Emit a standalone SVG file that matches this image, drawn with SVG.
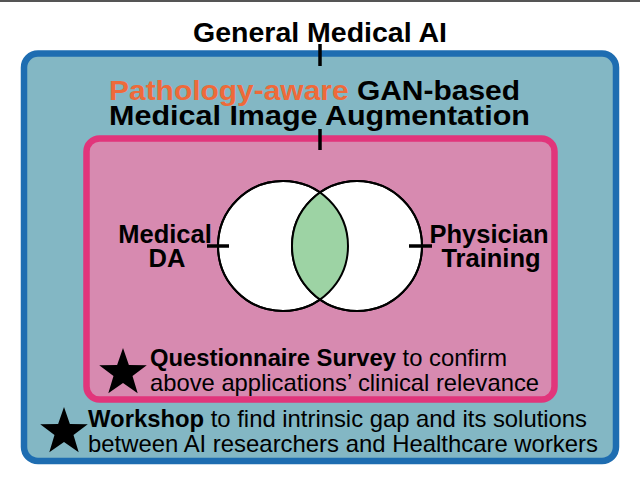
<svg xmlns="http://www.w3.org/2000/svg" width="640" height="485" viewBox="0 0 640 485">
<style>
text{font-family:"Liberation Sans",Arial,Helvetica,sans-serif;fill:#000}
.b{font-weight:bold}
.title{font-size:28.5px;font-weight:bold}
.lbl{font-size:25.5px;font-weight:bold}
.body{font-size:24px}
.tick{stroke:#000;stroke-width:3.5;fill:none}
.star{fill:#000}
</style>
<defs>
<path id="star" d="M0,-25 L5.88,-8.09 L23.78,-7.73 L9.51,3.09 L14.69,20.23 L0,10 L-14.69,20.23 L-9.51,3.09 L-23.78,-7.73 L-5.88,-8.09 Z"/>
<clipPath id="lc"><circle cx="283" cy="246" r="65"/></clipPath>
</defs>
<rect x="0" y="0" width="640" height="485" fill="#fff"/>
<line x1="0" y1="1" x2="640" y2="1" stroke="#555" stroke-width="2"/>

<g id="general-medical-ai">
<text class="title" x="320" y="42" text-anchor="middle" font-size="29.5">General Medical AI</text>
</g>

<g id="gan-augmentation">
<rect x="24" y="53.5" width="592" height="407.5" rx="14" fill="#83b7c4" stroke="#1e6db1" stroke-width="6.5"/>
<text class="title" x="109" y="100" textLength="411" lengthAdjust="spacingAndGlyphs"><tspan fill="#ee6a3a">Pathology-aware</tspan> GAN-based</text>
<text class="title" x="109" y="125" textLength="421" lengthAdjust="spacingAndGlyphs">Medical Image Augmentation</text>
</g>

<g id="applications">
<rect x="86.5" y="138.5" width="468" height="261" rx="13" fill="#d78ab0" stroke="#e1357b" stroke-width="6.5"/>
</g>

<g id="venn">
<circle cx="283" cy="246" r="65" fill="#fff" stroke="#000" stroke-width="2"/>
<circle cx="357" cy="246" r="65" fill="#fff" stroke="#000" stroke-width="2"/>
<circle cx="357" cy="246" r="65" fill="#9dd3a4" clip-path="url(#lc)"/>
<circle cx="283" cy="246" r="65" fill="none" stroke="#000" stroke-width="2"/>
<circle cx="357" cy="246" r="65" fill="none" stroke="#000" stroke-width="2"/>
</g>

<g id="medical-da">
<text class="lbl" x="165" y="243" text-anchor="middle">Medical</text>
<text class="lbl" x="167" y="267" text-anchor="middle">DA</text>
</g>

<g id="physician-training">
<text class="lbl" x="489" y="243" text-anchor="middle">Physician</text>
<text class="lbl" x="491" y="267" text-anchor="middle">Training</text>
</g>

<g id="questionnaire">
<use href="#star" x="123" y="373" class="star"/>
<text class="body" x="150" y="366" textLength="357" lengthAdjust="spacingAndGlyphs"><tspan class="b">Questionnaire Survey</tspan> to confirm</text>
<text class="body" x="150" y="391" textLength="389" lengthAdjust="spacingAndGlyphs">above applications’ clinical relevance</text>
</g>

<g id="workshop">
<use href="#star" x="64" y="432" class="star"/>
<text class="body" x="88" y="427" textLength="499" lengthAdjust="spacingAndGlyphs"><tspan class="b">Workshop</tspan> to find intrinsic gap and its solutions</text>
<text class="body" x="88" y="452" textLength="510" lengthAdjust="spacingAndGlyphs">between AI researchers and Healthcare workers</text>
</g>

<g id="connectors">
<line class="tick" x1="320" y1="44" x2="320" y2="66"/>
<line class="tick" x1="320" y1="129" x2="320" y2="150"/>
<line class="tick" x1="207" y1="246" x2="229" y2="246"/>
<line class="tick" x1="409" y1="246" x2="432" y2="246"/>
</g>
</svg>
